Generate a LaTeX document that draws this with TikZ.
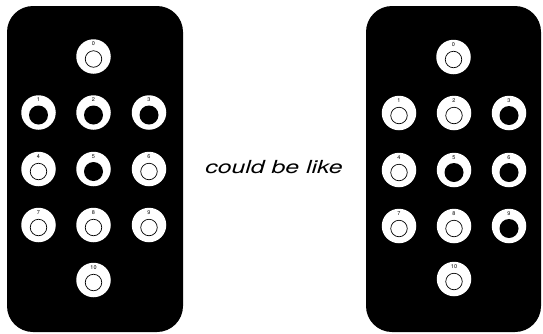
\documentclass[tikz,border=0pt]{standalone}
\usepackage{fontspec}
\setsansfont{TeX Gyre Heros}
\newcommand\btn[5]{%
  \node[ring] (#1) at (#2,#3) {};
  \node[#5] (#1c) at ([yshift=-2.5pt]#1.center) {};
  \node[num] (#1n) at ([yshift=12.5pt]#1.center) {#4};
}
\begin{document}
\begin{tikzpicture}[x=1pt,y=-1pt,
  panel/.style={fill=black, rounded corners=26pt},
  ring/.style={circle, fill=white, minimum size=34.5pt, inner sep=0pt},
  hollow/.style={circle, draw=black, line width=0.7pt, minimum size=16.5pt, inner sep=0pt},
  solid/.style={circle, fill=black, minimum size=19pt, inner sep=0pt},
  num/.style={font=\sffamily\fontsize{5.5}{5.5}\selectfont, inner sep=0pt},
  caption/.style={font=\sffamily\itshape\fontsize{18}{18}\selectfont, inner sep=0pt}
]
\useasboundingbox (0,0) rectangle (543,333);
\path[panel] (7,6) rectangle (183,332);
\path[panel] (366,6) rectangle (541,332);
% left panel
\btn{a0}{93.5}{56.5}{0}{hollow}
\btn{a1}{38.5}{112.5}{1}{solid}
\btn{a2}{93.5}{112.5}{2}{solid}
\btn{a3}{149}{112.5}{3}{solid}
\btn{a4}{38.5}{169}{4}{hollow}
\btn{a5}{93.5}{169}{5}{solid}
\btn{a6}{149}{169}{6}{hollow}
\btn{a7}{38.5}{225}{7}{hollow}
\btn{a8}{93.5}{225}{8}{hollow}
\btn{a9}{149}{225}{9}{hollow}
\btn{a10}{93.5}{280}{10}{hollow}
% right panel
\btn{b0}{453.5}{57}{0}{hollow}
\btn{b1}{399}{113}{1}{hollow}
\btn{b2}{454}{113}{2}{hollow}
\btn{b3}{509}{113}{3}{solid}
\btn{b4}{399}{170}{4}{hollow}
\btn{b5}{454}{170}{5}{solid}
\btn{b6}{509}{170}{6}{solid}
\btn{b7}{399}{226}{7}{hollow}
\btn{b8}{454}{226}{8}{hollow}
\btn{b9}{509}{226}{9}{solid}
\btn{b10}{454}{279}{10}{hollow}
\node[caption] (cap) at (274,167) {\scalebox{1.38}[1]{could be like}};
\end{tikzpicture}
\end{document}
